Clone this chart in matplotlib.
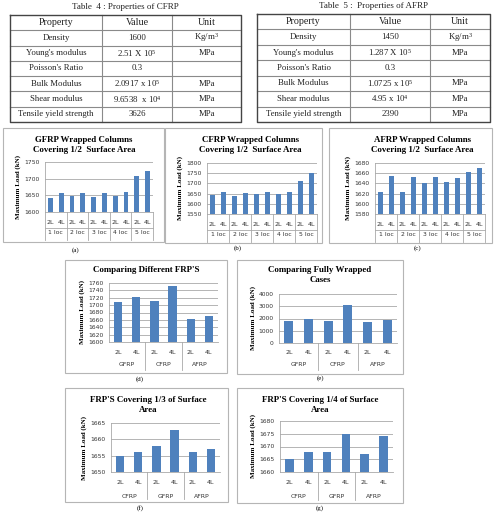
import numpy as np
import matplotlib.pyplot as plt

plt.rcParams['font.family'] = ['Liberation Serif', 'DejaVu Serif']
plt.rcParams['mathtext.fontset'] = 'custom'
plt.rcParams['mathtext.rm'] = 'Liberation Serif'
plt.rcParams['mathtext.it'] = 'Liberation Serif:italic'
plt.rcParams['mathtext.bf'] = 'Liberation Serif:bold'

# ---- table data ----
properties = ["Property", "Density", "Young's modulus", "Poisson's Ratio",
              "Bulk Modulus", "Shear modulus", "Tensile yield strength"]
cfrp_values = ["Value", "1600", r"2.51 X 10$^5$", "0.3", r"2.0917 x 10$^5$",
               r"9.6538  x 10$^4$", "3626"]
afrp_values = ["Value", "1450", r"1.287 X 10$^5$", "0.3", r"1.0725 x 10$^5$",
               r"4.95 x 10$^4$", "2390"]
units = ["Unit", r"Kg/m$^3$", "MPa", "", "MPa", "MPa", "MPa"]

# ---- chart data ----
layers = ["2L", "4L"]
locs = ["1 loc", "2 loc", "3 loc", "4 loc", "5 loc"]
frps = ["GFRP", "CFRP", "AFRP"]
frps_cga = ["CFRP", "GFRP", "AFRP"]

gfrp_half_2l = [1642, 1649, 1645, 1649, 1707]
gfrp_half_4l = [1658, 1656, 1658, 1661, 1723]
cfrp_half_2l = [1645, 1640, 1650, 1647, 1710]
cfrp_half_4l = [1656, 1651, 1657, 1660, 1750]
afrp_half_2l = [1624, 1623, 1640, 1643, 1663]
afrp_half_4l = [1655, 1652, 1653, 1650, 1671]
diff_2l = [1708, 1712, 1663]
diff_4l = [1723, 1751, 1670]
full_2l = [1800, 1830, 1700]
full_4l = [1980, 3080, 1840]
third_2l = [1655, 1658, 1656]
third_4l = [1656, 1663, 1657]
quarter_2l = [1665, 1668, 1667]
quarter_4l = [1668, 1675, 1674]

W, H = 494, 513
fig = plt.figure(figsize=(W / 100, H / 100), dpi=100)
bg = fig.add_axes([0, 0, 1, 1])
bg.set_xlim(0, W)
bg.set_ylim(H, 0)
bg.axis('off')


def rect(l, t, r, b):
    return [l / W, 1 - b / H, (r - l) / W, (b - t) / H]


def draw_table(title, title_y, columns, xs, top, bottom):
    n = len(columns[0])
    ys = np.linspace(top, bottom, n + 1)
    for y in ys[1:-1]:
        bg.plot([xs[0], xs[-1]], [y, y], color='#8a8a8a', lw=0.8)
    for x in xs[1:-1]:
        bg.plot([x, x], [top, bottom], color='#8a8a8a', lw=0.8)
    bg.plot([xs[0], xs[-1], xs[-1], xs[0], xs[0]], [top, top, bottom, bottom, top],
            color='#444444', lw=1.0)
    for j, col in enumerate(columns):
        cx = (xs[j] + xs[j + 1]) / 2
        for i, s in enumerate(col):
            bg.text(cx, (ys[i] + ys[i + 1]) / 2, s, ha='center', va='center',
                    fontsize=7.2 if i == 0 else 6.3, color='#222222')
    bg.text((xs[0] + xs[-1]) / 2, title_y, title, ha='center', va='center',
            fontsize=6.5, color='#222222')


draw_table("Table  4 : Properties of CFRP", 7, [properties, cfrp_values, units],
           [10, 102, 172, 241], 15, 122)
draw_table("Table  5 :  Properties of AFRP", 6, [properties, afrp_values, units],
           [257, 350, 430, 490], 14, 122)


def draw_chart(box, plot, title, title_x, title_y, groups, v2, v4, yticks,
               tag, tag_xy, offs, full_grid):
    bl, bt, br, bb = box
    bg.add_patch(plt.Rectangle((bl, bt), br - bl, bb - bt, fill=False,
                               ec='#b5b5b5', lw=0.8))
    for k, line in enumerate(title):
        bg.text(title_x, title_y + k * 9.5, line, ha='center', va='center',
                fontsize=6.4, fontweight='bold')
    bg.text(tag_xy[0], tag_xy[1], tag, ha='center', va='center', fontsize=5)

    ax = fig.add_axes(rect(*plot))
    vals = [v for pair in zip(v2, v4) for v in pair]
    n = len(vals)
    ax.bar(np.arange(n), vals, width=0.46, color='#4F81BD', zorder=3)
    ax.set_xlim(-0.5, n - 0.5)
    ax.set_ylim(yticks[0], yticks[-1])
    ax.set_yticks(yticks)
    ax.set_yticklabels([str(t) for t in yticks], fontsize=4.3,
                       fontfamily='DejaVu Sans', color='#333333')
    ax.tick_params(axis='y', length=0, pad=4)
    ax.set_xticks([])
    ax.grid(axis='y', color='#a8a8a8', lw=0.6, zorder=0)
    for s in ['top', 'right']:
        ax.spines[s].set_visible(False)
    ax.spines['left'].set_color('#a8a8a8')
    ax.spines['bottom'].set_color('#a8a8a8')
    ax.spines['left'].set_linewidth(0.6)
    ax.spines['bottom'].set_linewidth(0.6)
    ax.set_ylabel('Maximum Load (kN)', fontsize=5, fontweight='bold', labelpad=2)

    ph = plot[3] - plot[1]
    tr = ax.get_xaxis_transform()
    r1, r2, end = offs
    for i in range(n):
        ax.text(i, -r1 / ph, layers[i % 2], transform=tr, ha='center', va='center',
                fontsize=4.6, fontfamily='DejaVu Sans', color='#333333')
    for g, name in enumerate(groups):
        ax.text(2 * g + 0.5, -r2 / ph, name, transform=tr, ha='center',
                va='center', fontsize=4.4, fontfamily='DejaVu Sans', color='#333333')
    seps = range(0, len(groups) + 1) if full_grid else range(1, len(groups))
    for g in seps:
        ax.plot([2 * g - 0.5] * 2, [0, -end / ph], transform=tr, color='#a8a8a8',
                lw=0.6, clip_on=False)
    if full_grid:
        ax.plot([-0.5, n - 0.5], [-(r1 + r2) / 2 / ph] * 2, transform=tr,
                color='#a8a8a8', lw=0.6, clip_on=False)
    return ax


draw_chart((3, 128, 164, 242), (45, 162, 153, 212),
           ["GFRP Wrapped Columns", "Covering 1/2  Surface Area"], 84, 140,
           locs, gfrp_half_2l, gfrp_half_4l, [1600, 1650, 1700, 1750],
           "(a)", (76, 250), (10, 21, 28), True)
draw_chart((165, 128, 322, 243), (207, 163, 317, 214),
           ["CFRP Wrapped Columns", "Covering 1/2  Surface Area"], 250, 140,
           locs, cfrp_half_2l, cfrp_half_4l, [1550, 1600, 1650, 1700, 1750, 1800],
           "(b)", (238, 248), (10, 21, 28), True)
draw_chart((329, 128, 492, 243), (375, 163, 485, 214),
           ["AFRP Wrapped Columns", "Covering 1/2  Surface Area"], 422, 140,
           locs, afrp_half_2l, afrp_half_4l, [1580, 1600, 1620, 1640, 1660, 1680],
           "(c)", (418, 248), (10, 21, 28), True)
draw_chart((65, 260, 227, 373), (109, 283, 218, 342),
           ["Comparing Different FRP'S"], 146, 270,
           frps, diff_2l, diff_4l, list(range(1600, 1761, 20)),
           "(d)", (140, 379), (10, 23, 28), False)
draw_chart((237, 260, 403, 374), (279, 294, 397, 343),
           ["Comparing Fully Wrapped", "Cases"], 320, 270,
           frps, full_2l, full_4l, [0, 1000, 2000, 3000, 4000],
           "(e)", (320, 378), (9, 22, 27), False)
draw_chart((65, 388, 228, 502), (111, 423, 220, 472),
           ["FRP'S Covering 1/3 of Surface", "Area"], 148, 400,
           frps_cga, third_2l, third_4l, [1650, 1655, 1660, 1665],
           "(f)", (140, 508), (10, 24, 27), False)
draw_chart((237, 388, 403, 503), (280, 421, 393, 472),
           ["FRP'S Covering 1/4 of Surface", "Area"], 320, 400,
           frps_cga, quarter_2l, quarter_4l, [1660, 1665, 1670, 1675, 1680],
           "(g)", (320, 508), (10, 24, 28), False)

fig.savefig('out.png', dpi=100)
